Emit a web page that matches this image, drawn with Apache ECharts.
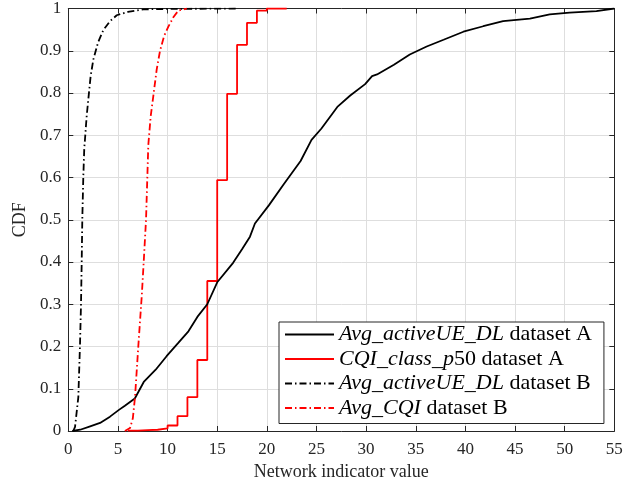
<!DOCTYPE html>
<html><head><meta charset="utf-8">
<script src="https://cdn.jsdelivr.net/npm/echarts@6/dist/echarts.min.js"></script>
<style>html,body{margin:0;padding:0;background:#fff}#c{width:641px;height:486px}</style>
</head><body><div id="c"></div>
<script>
// ---- data ----
const xTicks = [0,5,10,15,20,25,30,35,40,45,50,55];
const yTicks = [0,0.1,0.2,0.3,0.4,0.5,0.6,0.7,0.8,0.9,1];
const seriesNames = [
  'Avg_activeUE_DL dataset A',
  'CQI_class_p50 dataset A',
  'Avg_activeUE_DL dataset B',
  'Avg_CQI dataset B'
];
// Avg_activeUE_DL dataset A (empirical CDF)
const actA_x = [0.4,1.2,2.2,3.2,4.2,5.1,5.7,6.7,7.6,8.8,9.9,11.1,12.1,13.0,14.0,15.0,16.6,17.5,18.3,18.8,20.2,21.7,23.4,24.5,25.5,27.1,28.4,29.9,30.6,31.1,32.8,34.4,36.1,37.8,39.8,41.8,43.8,46.5,48.5,50.5,53.2,55];
const actA_y = [0,0.003,0.011,0.019,0.034,0.05,0.06,0.077,0.116,0.145,0.177,0.209,0.236,0.27,0.30,0.352,0.398,0.43,0.46,0.491,0.534,0.584,0.639,0.689,0.716,0.767,0.794,0.821,0.84,0.844,0.867,0.891,0.91,0.926,0.945,0.958,0.970,0.976,0.986,0.99,0.994,1];
// CQI_class_p50 dataset A (step CDF on integer values)
const cqiA_x = [6,7,8,9,10,11,12,13,14,15,16,17,18,19,20,22];
const cqiA_y = [0.001,0.002,0.003,0.006,0.013,0.035,0.08,0.168,0.355,0.594,0.798,0.914,0.966,0.995,1,1];
// Avg_activeUE_DL dataset B
const actB_x = [0.5,0.68,1.01,1.18,1.28,1.35,1.41,1.51,1.61,1.68,1.85,2.02,2.25,2.52,3.0,3.53,4.2,4.88,6.0,7.56,10,17];
const actB_y = [0,0.01,0.08,0.205,0.3,0.4,0.5,0.6,0.67,0.69,0.745,0.786,0.84,0.879,0.92,0.949,0.97,0.984,0.992,0.998,0.999,1];
// Avg_CQI dataset B
const cqiB_x = [5.7,6.22,6.5,6.72,7.05,7.4,7.62,7.83,8.06,8.3,8.57,8.9,9.24,9.65,10.08,10.6,11.09,11.94];
const cqiB_y = [0,0.007,0.03,0.08,0.2,0.32,0.41,0.5,0.677,0.745,0.794,0.855,0.90,0.935,0.957,0.98,0.995,1];

const pairs = (xs, ys) => xs.map((x, i) => [x, ys[i]]);
const FONT = 'Liberation Serif';
const AX = '#262626';
const dashDot = [7, 3, 1.5, 3];

const chart = echarts.init(document.getElementById('c'), null, {renderer: 'canvas'});

function baseX(pos, labels) {
  return {
    type: 'value', position: pos, min: xTicks[0], max: xTicks[xTicks.length-1], interval: 5,
    axisLine: {show: true, onZero: false, lineStyle: {color: AX, width: 1}},
    axisTick: {show: true, inside: true, length: 5, lineStyle: {color: AX}},
    axisLabel: {show: labels, fontFamily: FONT, fontSize: 17, color: AX, margin: 10},
    splitLine: {show: labels, lineStyle: {color: '#dedede', width: 1}}
  };
}
function baseY(pos, labels) {
  return {
    type: 'value', position: pos, min: yTicks[0], max: yTicks[yTicks.length-1], interval: 0.1,
    axisLine: {show: true, onZero: false, lineStyle: {color: AX, width: 1}},
    axisTick: {show: true, inside: true, length: 5, lineStyle: {color: AX}},
    axisLabel: {show: labels, fontFamily: FONT, fontSize: 17, color: AX, margin: 7,
      formatter: v => (Math.round(v*10)/10).toString()},
    splitLine: {show: labels, lineStyle: {color: '#dedede', width: 1}}
  };
}
const xb = baseX('bottom', true);
xb.name = 'Network indicator value';
xb.nameLocation = 'middle';
xb.nameGap = 32;
xb.nameTextStyle = {fontFamily: FONT, fontSize: 18, color: AX};
const yl = baseY('left', true);
yl.name = 'CDF';
yl.nameLocation = 'middle';
yl.nameGap = 30;
yl.nameTextStyle = {fontFamily: FONT, fontSize: 18, color: AX};

function legendFmt(name) {
  const sp = name.indexOf(' ');
  const head = name.slice(0, sp), rest = name.slice(sp + 1);
  const m = head.match(/^(.*?)(\d*)$/);
  let s = '{i|' + m[1] + '}';
  if (m[2]) s += '{n|' + m[2] + '}';
  return s + '{n| ' + rest + '}';
}

chart.setOption({
  animation: false,
  backgroundColor: '#fff',
  grid: {left: 68.3, right: 26.7, top: 8, bottom: 48, containLabel: false},
  xAxis: [xb, baseX('top', false)],
  yAxis: [yl, baseY('right', false)],
  legend: {
    orient: 'vertical', left: 279, top: 322,
    data: seriesNames,
    itemWidth: 49, itemHeight: 12, itemGap: 2.5,
    padding: [1.5, 12, 4.5, 5],
    backgroundColor: '#fff', borderColor: AX, borderWidth: 1, borderRadius: 0,
    itemStyle: {opacity: 0},
    formatter: legendFmt,
    textStyle: {
      fontFamily: FONT, fontSize: 22, color: '#000',
      rich: {
        i: {fontFamily: FONT, fontSize: 22, fontStyle: 'italic', color: '#000', lineHeight: 22},
        n: {fontFamily: FONT, fontSize: 22, color: '#000', lineHeight: 22}
      }
    }
  },
  series: [
    {name: seriesNames[0], type: 'line', data: pairs(actA_x, actA_y), symbol: 'none',
      lineStyle: {color: '#000', width: 1.8}, itemStyle: {color: '#000'}, z: 3},
    {name: seriesNames[1], type: 'line', step: 'end', data: pairs(cqiA_x, cqiA_y), symbol: 'none',
      lineStyle: {color: '#ff0000', width: 1.8}, itemStyle: {color: '#ff0000'}, z: 2},
    {name: seriesNames[2], type: 'line', data: pairs(actB_x, actB_y), symbol: 'none',
      lineStyle: {color: '#000', width: 1.8, type: dashDot}, itemStyle: {color: '#000'}, z: 4},
    {name: seriesNames[3], type: 'line', data: pairs(cqiB_x, cqiB_y), symbol: 'none',
      lineStyle: {color: '#ff0000', width: 1.8, type: dashDot}, itemStyle: {color: '#ff0000'}, z: 4}
  ]
});
</script>
</body></html>
